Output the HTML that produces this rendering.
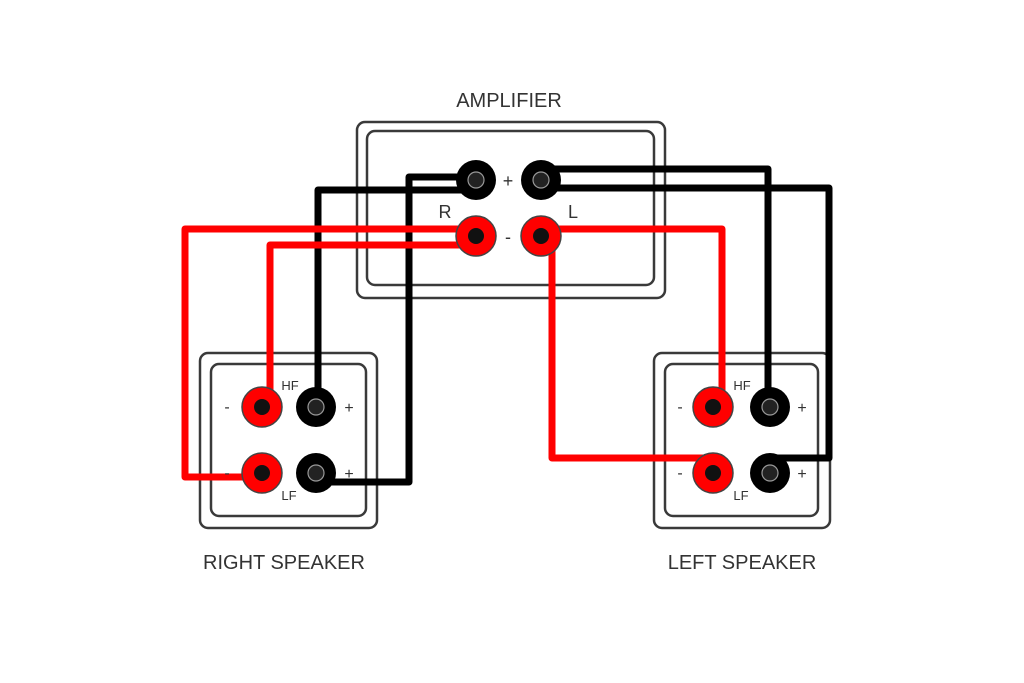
<!DOCTYPE html>
<html><head><style>body{margin:0;background:#fff}svg{display:block}text{font-family:"Liberation Sans",sans-serif;fill:#333}</style></head>
<body>
<svg width="1024" height="683" viewBox="0 0 1024 683">
<g fill="none" stroke="#3a3a3a" stroke-width="2.5">
<rect x="357" y="122" width="308" height="176" rx="8"/>
<rect x="367" y="131" width="287" height="154" rx="8"/>
<rect x="200" y="353" width="177" height="175" rx="8"/>
<rect x="211" y="364" width="155" height="152" rx="8"/>
<rect x="654" y="353" width="176" height="175" rx="8"/>
<rect x="665" y="364" width="153" height="152" rx="8"/>
</g>
<g fill="none" stroke-width="7" stroke-linejoin="round">
<path d="M476 177 H409 V482 H316" stroke="#000"/>
<path d="M476 190 H318 V407" stroke="#000"/>
<path d="M541 169 H768 V407" stroke="#000"/>
<path d="M541 188 H829 V458 H770" stroke="#000"/>
<path d="M476 229 H185 V477 H259" stroke="#f00"/>
<path d="M476 245 H270 V407" stroke="#f00"/>
<path d="M541 229 H722 V407" stroke="#f00"/>
<path d="M552 236 V458 H713" stroke="#f00"/>
</g>
<defs>
<g id="b"><circle r="20" fill="#000"/><circle r="8" fill="#222" stroke="#999" stroke-width="1.2"/></g>
<g id="r"><circle r="20" fill="#f00" stroke="#444" stroke-width="1.5"/><circle r="8" fill="#111"/></g>
</defs>
<use href="#b" x="476" y="180"/><use href="#b" x="541" y="180"/>
<use href="#r" x="476" y="236"/><use href="#r" x="541" y="236"/>
<use href="#r" x="262" y="407"/><use href="#b" x="316" y="407"/>
<use href="#r" x="262" y="473"/><use href="#b" x="316" y="473"/>
<use href="#r" x="713" y="407"/><use href="#b" x="770" y="407"/>
<use href="#r" x="713" y="473"/><use href="#b" x="770" y="473"/>
<g font-size="20">
<text x="509" y="107" text-anchor="middle">AMPLIFIER</text>
<text x="284" y="569" text-anchor="middle">RIGHT SPEAKER</text>
<text x="742" y="569" text-anchor="middle">LEFT SPEAKER</text>
<text x="445" y="218" text-anchor="middle" font-size="18">R</text>
<text x="573" y="218" text-anchor="middle" font-size="18">L</text>
<text x="508" y="187" text-anchor="middle" font-size="18">+</text>
<text x="508" y="243" text-anchor="middle" font-size="18">-</text>
</g>
<g font-size="16" text-anchor="middle">
<text x="227" y="412">-</text><text x="227" y="478">-</text>
<text x="349" y="413">+</text><text x="349" y="479">+</text>
<text x="680" y="412">-</text><text x="680" y="478">-</text>
<text x="802" y="413">+</text><text x="802" y="479">+</text>
</g>
<g font-size="13" text-anchor="middle">
<text x="290" y="390">HF</text><text x="289" y="500">LF</text>
<text x="742" y="390">HF</text><text x="741" y="500">LF</text>
</g>
</svg>
</body></html>
